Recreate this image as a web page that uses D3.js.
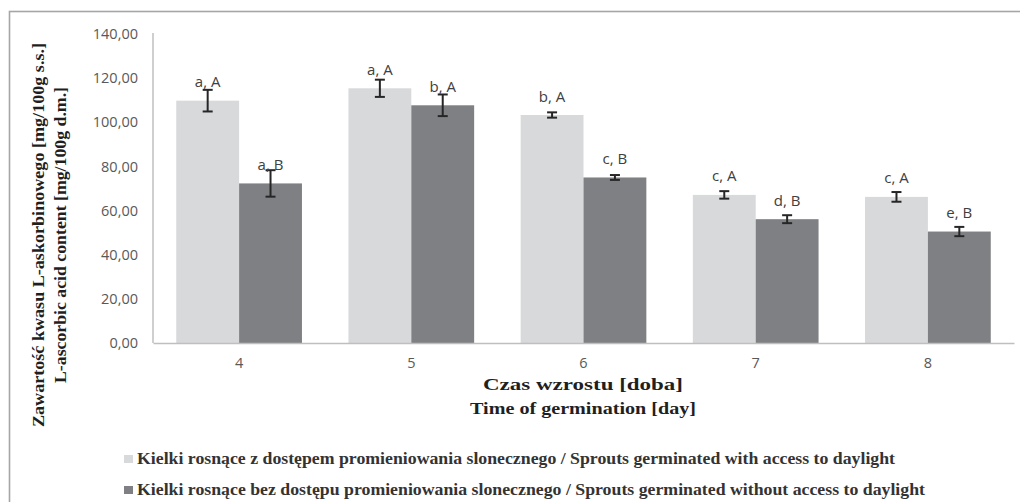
<!DOCTYPE html>
<html>
<head>
<meta charset="utf-8">
<script src="https://cdn.jsdelivr.net/npm/d3@7"></script>
<style>
  body { margin: 0; background: #fff; }
  svg { display: block; }
</style>
</head>
<body>
<svg id="chart" width="1020" height="502"></svg>
<script>
  const days = ["4", "5", "6", "7", "8"];
  const lightValues = [109.8, 115.4, 103.3, 67.1, 66.2];
  const lightErrors = [4.9, 3.9, 1.2, 1.7, 2.2];
  const darkValues = [72.3, 107.7, 75.0, 56.1, 50.5];
  const darkErrors = [6.0, 4.9, 1.1, 1.8, 2.1];
  const lightLabels = ["a, A", "a, A", "b, A", "c, A", "c, A"];
  const darkLabels = ["a, B", "b, A", "c, B", "d, B", "e, B"];
  const yTicks = [0, 20, 40, 60, 80, 100, 120, 140];
  const seriesNames = [
    "Kielki rosnące z dostępem promieniowania slonecznego / Sprouts germinated with access to daylight",
    "Kielki rosnące bez dostępu promieniowania slonecznego / Sprouts germinated without access to daylight"
  ];
  const colors = ["#d8d9db", "#7f8083"];

  const svg = d3.select("#chart");

  // outer frame, cut off at right and bottom like the source
  svg.append("rect")
    .attr("x", 9.5).attr("y", 11.5)
    .attr("width", 1100).attr("height", 600)
    .attr("fill", "none").attr("stroke", "#a6a6a6").attr("stroke-width", 1.6);

  const x = d3.scaleBand().domain(days).range([153, 1014])
    .paddingInner(0.27).paddingOuter(0.135);
  const xs = d3.scaleBand().domain([0, 1]).range([0, x.bandwidth()]);
  const y = d3.scaleLinear().domain([0, 140]).range([343, 34]);

  const rows = days.map((d, i) => ({
    day: d,
    vals: [
      { s: 0, v: lightValues[i], e: lightErrors[i], lab: lightLabels[i] },
      { s: 1, v: darkValues[i], e: darkErrors[i], lab: darkLabels[i] }
    ]
  }));

  const groups = svg.append("g").selectAll("g")
    .data(rows).join("g")
    .attr("transform", d => `translate(${x(d.day)},0)`);

  groups.selectAll("rect")
    .data(d => d.vals).join("rect")
    .attr("x", d => xs(d.s))
    .attr("y", d => y(d.v))
    .attr("width", xs.bandwidth())
    .attr("height", d => y(0) - y(d.v))
    .attr("fill", d => colors[d.s]);

  // error bars
  const err = groups.selectAll("g.err")
    .data(d => d.vals).join("g").attr("class", "err")
    .attr("stroke", "#262626").attr("stroke-width", 2);
  const cx = d => xs(d.s) + xs.bandwidth() / 2;
  err.append("line")
    .attr("x1", cx).attr("x2", cx)
    .attr("y1", d => y(d.v + d.e)).attr("y2", d => y(d.v - d.e));
  err.append("line")
    .attr("x1", d => cx(d) - 5).attr("x2", d => cx(d) + 5)
    .attr("y1", d => y(d.v + d.e)).attr("y2", d => y(d.v + d.e));
  err.append("line")
    .attr("x1", d => cx(d) - 5).attr("x2", d => cx(d) + 5)
    .attr("y1", d => y(d.v - d.e)).attr("y2", d => y(d.v - d.e));

  groups.selectAll("text")
    .data(d => d.vals).join("text")
    .attr("x", cx)
    .attr("y", d => y(d.v) - 13.5)
    .attr("text-anchor", "middle")
    .attr("font-family", "'Open Sans', sans-serif")
    .attr("font-size", 15)
    .attr("fill", "#404040")
    .text(d => d.lab);

  // axes
  const yAxis = svg.append("g")
    .attr("transform", "translate(153,0)")
    .call(d3.axisLeft(y).tickValues(yTicks).tickSize(0).tickPadding(15)
      .tickFormat(d => d3.format(".2f")(d).replace(".", ",")));
  const xAxis = svg.append("g")
    .attr("transform", "translate(0,343)")
    .call(d3.axisBottom(x).tickSize(0).tickPadding(15));
  [yAxis, xAxis].forEach(a => {
    a.select(".domain").attr("stroke", "#bfbfbf").attr("stroke-width", 1.5);
    a.selectAll("text")
      .attr("font-family", "'Open Sans', sans-serif")
      .attr("font-size", 14.5)
      .attr("fill", "#595959");
  });
  yAxis.select(".domain").attr("d", "M0,33V343");

  // axis titles
  const serif = "'Liberation Serif', 'Times New Roman', serif";
  const yTitle = [
    { t: "Zawartość kwasu L-askorbinowego [mg/100g s.s.]", x: 38, len: 384 },
    { t: "L-ascorbic acid content [mg/100g d.m.]", x: 60, len: 296 }
  ];
  svg.append("g").selectAll("text")
    .data(yTitle).join("text")
    .attr("transform", d => `translate(${d.x},235) rotate(-90)`)
    .attr("text-anchor", "middle")
    .attr("dominant-baseline", "central")
    .attr("font-family", serif)
    .attr("font-weight", "bold")
    .attr("font-size", 17.5)
    .attr("fill", "#1f1f1f")
    .attr("textLength", d => d.len)
    .attr("lengthAdjust", "spacingAndGlyphs")
    .text(d => d.t);

  const xTitle = [
    { t: "Czas wzrostu [doba]", y: 390, len: 200 },
    { t: "Time of germination [day]", y: 414, len: 226 }
  ];
  svg.append("g").selectAll("text")
    .data(xTitle).join("text")
    .attr("x", 583).attr("y", d => d.y)
    .attr("text-anchor", "middle")
    .attr("font-family", serif)
    .attr("font-weight", "bold")
    .attr("font-size", 17)
    .attr("fill", "#1f1f1f")
    .attr("textLength", d => d.len)
    .attr("lengthAdjust", "spacingAndGlyphs")
    .text(d => d.t);

  // legend
  const legendLen = [758, 788];
  const legend = svg.append("g").selectAll("g")
    .data(seriesNames).join("g")
    .attr("transform", (d, i) => `translate(124,${455 + i * 31})`);
  legend.append("rect")
    .attr("width", 9).attr("height", 8)
    .attr("fill", (d, i) => colors[i]);
  legend.append("text")
    .attr("x", 13).attr("y", 8.5)
    .attr("font-family", serif)
    .attr("font-weight", "bold")
    .attr("font-size", 16.5)
    .attr("fill", "#333")
    .attr("textLength", (d, i) => legendLen[i])
    .attr("lengthAdjust", "spacingAndGlyphs")
    .text(d => d);
</script>
</body>
</html>
